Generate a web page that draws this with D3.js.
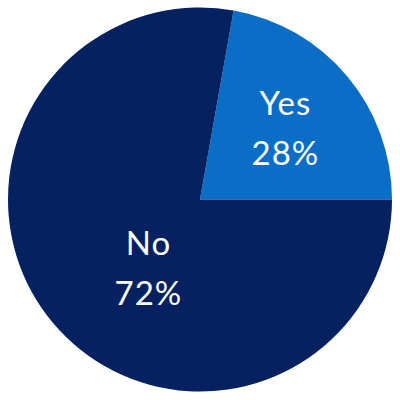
<!DOCTYPE html>
<html><head><meta charset="utf-8">
<script src="https://cdn.jsdelivr.net/npm/d3@7"></script>
<style>html,body{margin:0;padding:0;background:#fff;}svg{display:block;}</style>
</head><body>
<svg id="chart" width="400" height="400"></svg>
<script>
const categories = ["Yes", "No"];
const percentLabels = ["28%", "72%"];
// slice shares as drawn in the picture
const shares = [22.2, 77.8];
const colors = ["#0a6dc6", "#06215f"];

const svg = d3.select("#chart");
const cx = 200, cy = 199.5, R = 192;
const g = svg.append("g").attr("transform", `translate(${cx},${cy})`);

const data = categories.map((c, i) => ({cat: c, share: shares[i], label: percentLabels[i], color: colors[i]}));
const yesSweep = shares[0] / d3.sum(shares) * 2 * Math.PI;
const pie = d3.pie().sort(null).value(d => d.share)
  .startAngle(Math.PI / 2 - yesSweep).endAngle(Math.PI / 2 - yesSweep + 2 * Math.PI);
const arc = d3.arc().innerRadius(0).outerRadius(R);
const arcs = pie(data);

g.selectAll("path.slice").data(arcs).enter().append("path")
  .attr("class", "slice").attr("d", arc).attr("fill", d => d.data.color);

const labelRadius = [0.58, 0.445];
const angleShift = [0, -0.225];
const lbl = g.selectAll("g.lbl").data(arcs).enter().append("g").attr("class", "lbl")
  .attr("transform", (d, i) => {
    const a = (d.startAngle + d.endAngle) / 2 + angleShift[i];
    const r = R * labelRadius[i];
    return `translate(${r * Math.sin(a)},${-r * Math.cos(a)})`;
  });
const font = "Lato, 'Open Sans', sans-serif";
lbl.append("text").attr("text-anchor", "middle").attr("y", -13)
  .attr("font-family", font).attr("font-size", 33).attr("font-weight", 400)
  .attr("letter-spacing", 1).attr("fill", "#fff").text(d => d.data.cat);
lbl.append("text").attr("text-anchor", "middle").attr("y", 37)
  .attr("font-family", font).attr("font-size", 33).attr("font-weight", 400)
  .attr("letter-spacing", 1).attr("fill", "#fff").text(d => d.data.label);
</script>
</body></html>
